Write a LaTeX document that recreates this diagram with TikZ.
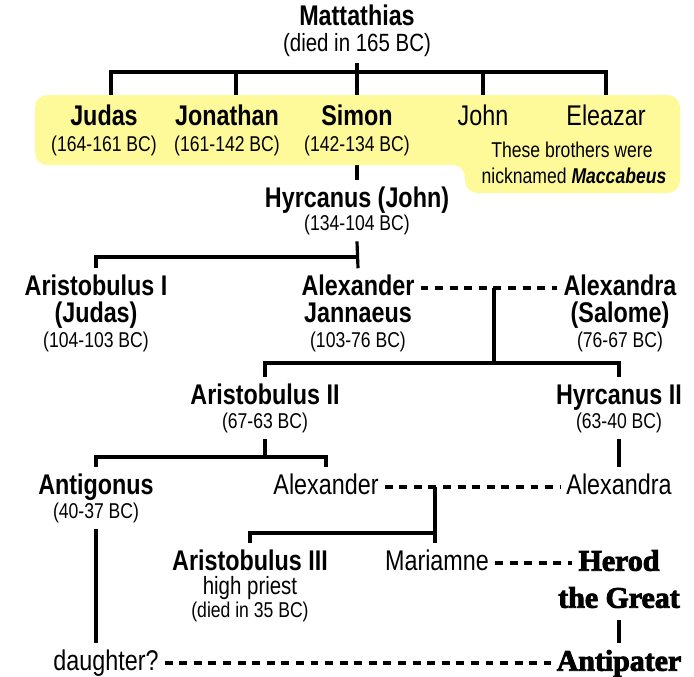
\documentclass[tikz,border=0pt]{standalone}
\usepackage{fontspec}
\setmainfont[FakeStretch=0.82]{Liberation Sans}
\newfontfamily\herodfont[FakeBold=3]{Liberation Serif}
\definecolor{boxyellow}{RGB}{255,250,153}
\pgfdeclarelayer{lines}
\pgfdeclarelayer{box}
\pgfsetlayers{lines,box,main}

\begin{document}
\begin{tikzpicture}[x=0.02cm, y=-0.02cm,
    every node/.style={inner sep=0pt, outer sep=3.5pt},
    person/.style={font=\fontsize{16.2}{18}\selectfont\bfseries, text height=12pt, text depth=3.5pt},
    plain/.style={font=\fontsize{16.2}{18}\selectfont, text height=12pt, text depth=3.5pt},
    years/.style={font=\fontsize{12.2}{14}\selectfont, text height=9pt, text depth=2.7pt},
    note/.style={font=\fontsize{14.2}{16}\selectfont, text height=10.5pt, text depth=3.1pt},
    herod/.style={font=\herodfont\bfseries\fontsize{17}{19}\selectfont, text height=12.5pt, text depth=3.7pt},
    tree/.style={line width=1.8pt},
    wed/.style={line width=1.8pt, dash pattern=on 4.5pt off 3.8pt}]
    \useasboundingbox (0,0) rectangle (694,677);

    % Mattathias and his sons
    \node[person] (mat) at (357,18) {Mattathias};
    \node[note] (matd) at (357,45) {(died in 165 BC)};
    \node[person] (jud) at (104,118) {Judas};
    \node[years] (judd) at (104,146) {(164-161 BC)};
    \node[person] (jon) at (227,118) {Jonathan};
    \node[years] (jond) at (227,146) {(161-142 BC)};
    \node[person] (sim) at (357,118) {Simon};
    \node[years] (simd) at (357,146) {(142-134 BC)};
    \node[plain] (joh) at (483,118) {John};
    \node[plain] (ele) at (606,118) {Eleazar};
    \node[years] (nick1) at (572,152) {These brothers were};
    \node[years] (nick2) at (574,178) {nicknamed \textbf{\textit{Maccabeus}}};

    \node[person] (hyr) at (357,200) {Hyrcanus (John)};
    \node[years] (hyrd) at (357,225) {(134-104 BC)};

    \node[person] (ar1) at (96,288) {Aristobulus I};
    \node[person] (ar1b) at (96,315) {(Judas)};
    \node[years] (ar1d) at (96,342) {(104-103 BC)};
    \node[person] (aj) at (358,288) {Alexander};
    \node[person] (ajb) at (358,315) {Jannaeus};
    \node[years] (ajd) at (358,342) {(103-76 BC)};
    \node[person] (as) at (620,288) {Alexandra};
    \node[person] (asb) at (620,315) {(Salome)};
    \node[years] (asd) at (620,342) {(76-67 BC)};

    \node[person] (ar2) at (265,397) {Aristobulus II};
    \node[years] (ar2d) at (265,423) {(67-63 BC)};
    \node[person] (hy2) at (619,397) {Hyrcanus II};
    \node[years] (hy2d) at (619,423) {(63-40 BC)};

    \node[person] (ant) at (96,487) {Antigonus};
    \node[years] (antd) at (96,513) {(40-37 BC)};
    \node[plain] (alx) at (326,487) {Alexander};
    \node[plain] (ala) at (619,487) {Alexandra};

    \node[person] (ar3) at (250,563) {Aristobulus III};
    \node[note] (ar3b) at (250,588) {high priest};
    \node[years] (ar3d) at (250,612) {(died in 35 BC)};
    \node[plain] (mar) at (437,563) {Mariamne};
    \node[herod] (her) at (619,563) {Herod};
    \node[herod] (herb) at (619,600) {the Great};

    \node[plain] (dau) at (106,663) {daughter?};
    \node[herod] (antp) at (619,663) {Antipater};

    % top branches, partly hidden by the box
    \begin{pgfonlayer}{lines}
    \coordinate (k0) at (357,72);
    \coordinate (lj) at (111,100);
    \coordinate (ljo) at (236,100);
    \coordinate (ljh) at (483,100);
    \coordinate (lje) at (606,100);
    \draw[tree] (matd.south) -- (hyr.north);
    \draw[tree] (lj) |- (k0) -| (lje);
    \draw[tree] (ljo) -- (ljo |- k0);
    \draw[tree] (ljh) -- (ljh |- k0);
    \end{pgfonlayer}

    \begin{pgfonlayer}{box}
    \fill[boxyellow, rounded corners=7pt] (300,95) -- (680,95) -- (680,193) -- (465,193)
        -- (465,165) -- (35,165) -- (35,95) -- cycle;
    \end{pgfonlayer}

    % family lines
    \coordinate (k1) at (357,257);
    \draw[tree] (hyrd.south) -- (aj.north);
    \draw[tree] (k1) -| (ar1.north);

    \coordinate (m1) at (494,288);
    \coordinate (k2) at (494,363);
    \draw[wed] (aj.east) -- (as.west);
    \draw[tree] (m1) -- (k2);
    \draw[tree] (ar2.north) |- (k2) -| (hy2.north);

    \coordinate (k3) at (265,457);
    \draw[tree] (ar2d.south) -- (k3);
    \draw[tree] (ant.north) |- (k3) -| (alx.north);
    \draw[tree] (hy2d.south) -- (ala.north);

    \coordinate (m2) at (435,487);
    \coordinate (k4) at (435,533);
    \draw[wed] (alx.east) -- (ala.west);
    \draw[tree] (m2) -- (m2 |- mar.north);
    \draw[tree] (k4) -| (ar3.north);

    \draw[wed] (mar.east) -- (her.west);
    \draw[tree] (herb.south) -- (antp.north);
    \draw[tree] (antd.south) -- (antd.south |- dau.north);
    \draw[wed] (dau.east) -- (antp.west);
\end{tikzpicture}
\end{document}
